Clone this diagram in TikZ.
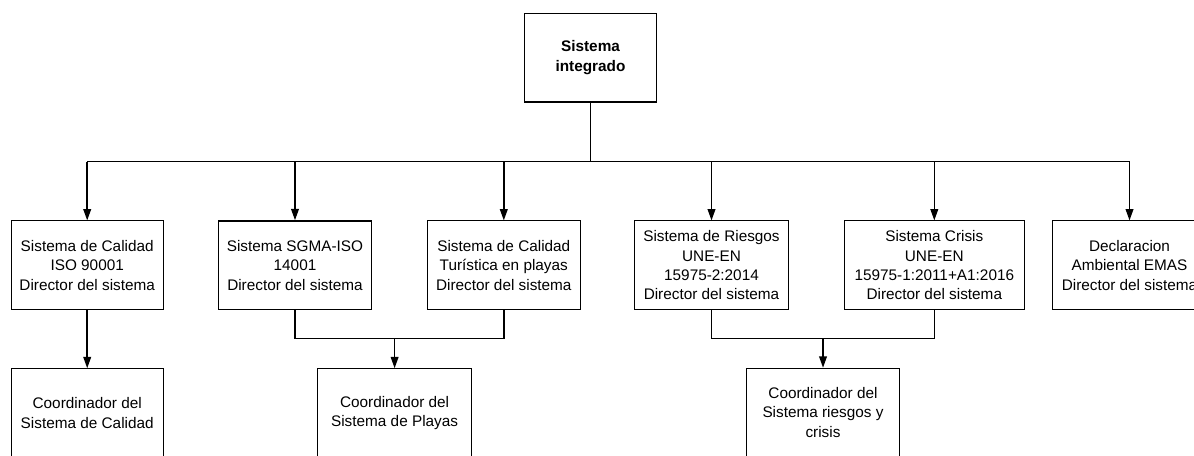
\documentclass[tikz,border=0pt]{standalone}
\usepackage{fontspec}
\setmainfont{Liberation Sans}
\usetikzlibrary{arrows.meta}
\begin{document}
\begin{tikzpicture}[x=0.75pt,y=-0.75pt,
  box/.style={draw=black,line width=0.8pt,rectangle,align=center,inner sep=0pt,
    minimum height=66.4pt,font=\fontsize{11.5}{14.5}\selectfont},
  boldbox/.style={box,line width=1.1pt,font=\fontsize{11.5}{14.5}\selectfont\bfseries},
  link/.style={line width=1.1pt},
  arr/.style={link,-{Triangle[length=8.5pt,width=5.8pt]}}]
\useasboundingbox (0,0) rectangle (1194,455);
\clip (0,0) rectangle (1194,455);

% root
\node[boldbox,minimum width=99.3pt] (top) at (590.5,57.5) {Sistema\\integrado};

% management systems
\node[box,minimum width=114.2pt] (b1) at (87.2,265.2) {Sistema de Calidad\\ISO 90001\\Director del sistema};
\node[box,line width=1.1pt,minimum width=115pt] (b2) at (295,265.2) {Sistema SGMA-ISO\\14001\\Director del sistema};
\node[box,minimum width=114.8pt] (b3) at (503.8,265.2) {Sistema de Calidad\\Turística en playas\\Director del sistema};
\node[box,minimum width=115.5pt] (b4) at (711.5,265.2) {Sistema de Riesgos\\UNE-EN\\15975-2:2014\\Director del sistema};
\node[box,minimum width=135.4pt] (b5) at (934.3,265.2) {Sistema Crisis\\UNE-EN\\15975-1:2011+A1:2016\\Director del sistema};
\node[box,minimum width=115.8pt] (b6) at (1129.5,265.2) {Declaracion\\Ambiental EMAS\\Director del sistema};

% coordinators
\node[box,minimum width=114.2pt] (c1) at (87.2,413) {Coordinador del\\Sistema de Calidad};
\node[box,minimum width=115.3pt] (c2) at (394.6,413) {Coordinador del\\Sistema de Playas};
\node[box,minimum width=114.5pt] (c3) at (823,412.5) {Coordinador del\\Sistema riesgos y\\crisis};

% routing levels
\coordinate (bus) at (0,161.5);
\coordinate (m) at (0,338.5);

% root to systems
\draw[link] (top.south) -- (top.south |- bus);
\draw[link] (b1.north |- bus) -- (b6.north |- bus);
\foreach \n in {b1,b2,b3,b4,b5,b6}
  \draw[arr] (\n.north |- bus) -- (\n.north);

% systems to coordinators
\draw[arr] (b1.south) -- (c1.north);
\draw[link] (b2.south) |- (b3.south |- m) -- (b3.south);
\draw[arr] (c2.north |- m) -- (c2.north);
\draw[link] (b4.south) |- (b5.south |- m) -- (b5.south);
\draw[arr] (c3.north |- m) -- (c3.north);
\end{tikzpicture}
\end{document}
